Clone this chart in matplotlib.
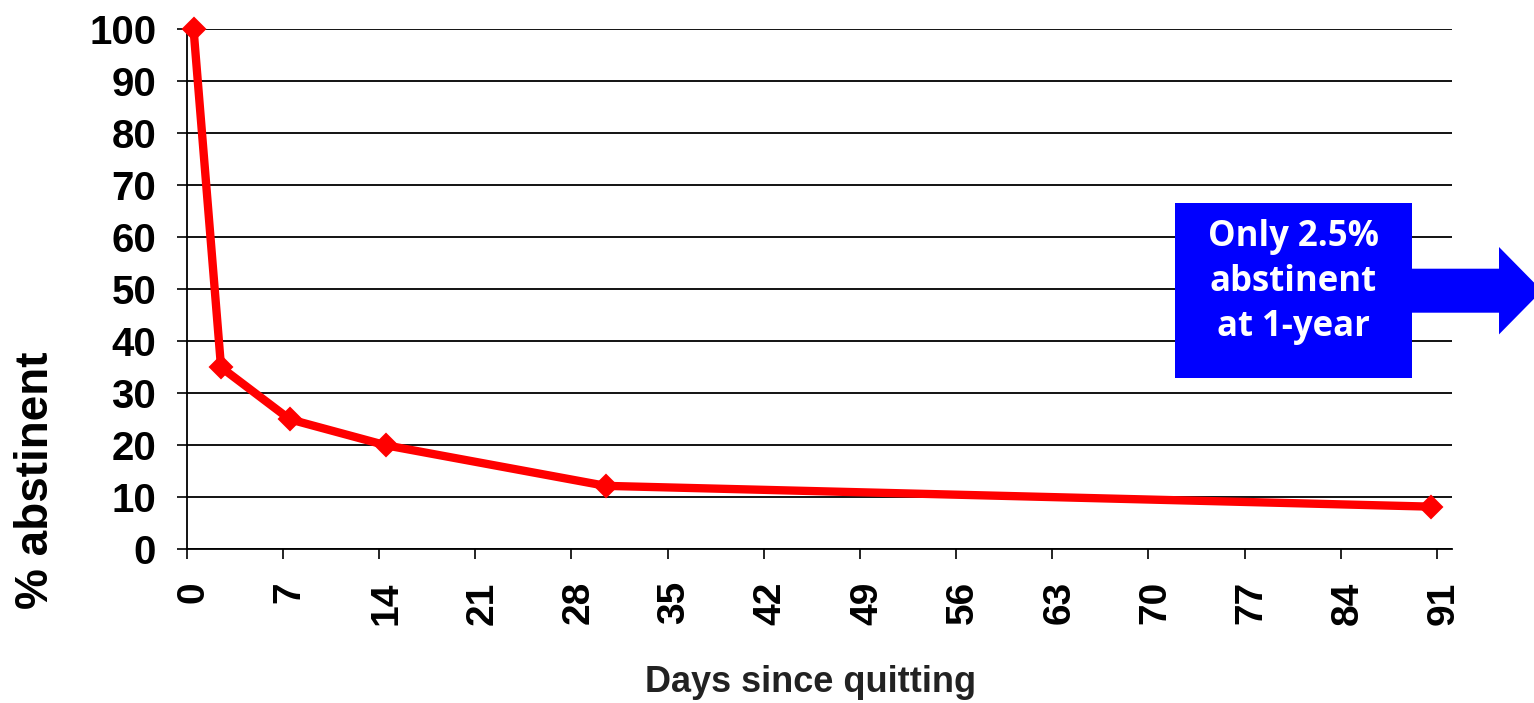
import matplotlib.pyplot as plt
from matplotlib.patches import Rectangle, Polygon
from matplotlib.transforms import ScaledTranslation

days = [0.5, 2.5, 7.5, 14.5, 30.5, 90.6]
abstinent = [100, 35, 25, 20, 12.2, 8.2]
xticks = [0, 7, 14, 21, 28, 35, 42, 49, 56, 63, 70, 77, 84, 91]
yticks = [0, 10, 20, 30, 40, 50, 60, 70, 80, 90, 100]
note = "Only 2.5%\nabstinent\nat 1-year"

plt.rcParams["font.family"] = ["Liberation Sans", "DejaVu Sans"]
W, H = 1534, 703
fig = plt.figure(figsize=(W / 100, H / 100), dpi=100)
ax = fig.add_axes([186.7 / W, 1 - 549.3 / H, (1452 - 186.7) / W, (549.3 - 29.3) / H])

ax.set_xlim(0, 92.1)
ax.set_ylim(0, 100)
ax.set_xticks(xticks)
ax.set_yticks(yticks)
ax.set_xticklabels([str(t) for t in xticks], rotation=90, fontsize=28, fontweight="bold", va="top")
ax.set_yticklabels([str(t) for t in yticks], fontsize=29, fontweight="bold")
ax.tick_params(axis="both", length=7, width=1.2, color="black")
ax.tick_params(axis="y", pad=15)
ax.tick_params(axis="x", pad=16)
shift = ScaledTranslation(7 / 100, 0, fig.dpi_scale_trans)
for lab in ax.get_xticklabels():
    lab.set_transform(lab.get_transform() + shift)
for s in ["top", "right"]:
    ax.spines[s].set_visible(False)
for s in ["left", "bottom"]:
    ax.spines[s].set_linewidth(1.3)
ax.yaxis.grid(True, color="black", linewidth=1.3)
ax.set_axisbelow(True)

ax.plot(days, abstinent, color="#ff0000", linewidth=6, marker="D",
        markersize=11, markeredgecolor="#ff0000", markeredgewidth=1.5,
        clip_on=False, zorder=5)

fig.text(811 / W, 1 - 683 / H, "Days since quitting", fontsize=26, fontweight="bold",
         color="#222222", ha="center", va="center")
fig.text(36 / W, 1 - 480 / H, "% abstinent", fontsize=33, fontweight="bold",
         rotation=90, ha="center", va="center")

# blue callout box with arrow
box = Rectangle((1175 / W, 1 - 377.7 / H), (1412 - 1175) / W, (377.7 - 203.3) / H,
                transform=fig.transFigure, facecolor="#0000ff", edgecolor="none", zorder=10)
fig.patches.append(box)
arrow_pts = [(1411, 268.7), (1499, 268.7), (1499, 247), (1542, 290.7),
             (1499, 334.4), (1499, 312.7), (1411, 312.7)]
arrow = Polygon([(x / W, 1 - y / H) for x, y in arrow_pts], closed=True,
                transform=fig.transFigure, facecolor="#0000ff", edgecolor="none", zorder=10)
fig.patches.append(arrow)
fig.text(1293 / W, 1 - 282 / H, note, fontsize=25, fontweight="bold", color="white",
         family=["Open Sans", "DejaVu Sans"], ha="center", va="center", linespacing=1.33, zorder=11)

fig.savefig("out.png", dpi=100)
